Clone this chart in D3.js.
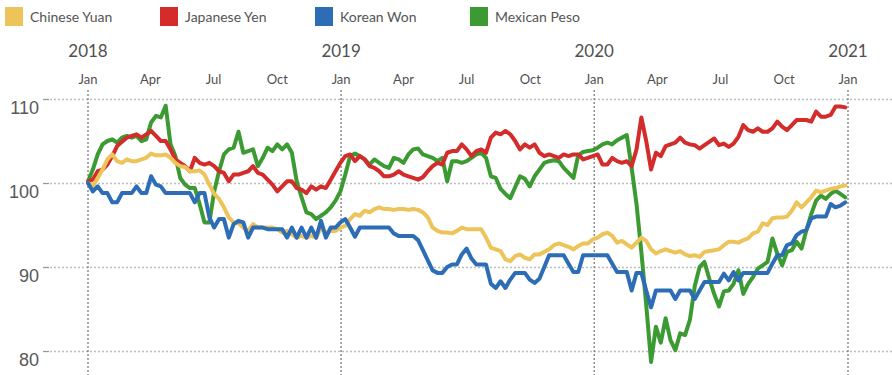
<!DOCTYPE html>
<meta charset="utf-8">
<style>
body { margin: 0; background: #fff; }
svg { font-family: Lato, "Open Sans", sans-serif; }
.line { fill: none; stroke-width: 4px; stroke-linejoin: round; stroke-linecap: round; }
.grid line { stroke: #bdbdbd; stroke-width: 1.3px; stroke-dasharray: 2,2; }
.grid path { stroke-width: 0; }
.yearline { stroke: #7a7a7a; stroke-width: 1.3px; stroke-dasharray: 2,2; }
.yaxis path { stroke-width: 0; }
.yaxis line { stroke: #999; stroke-width: 1.3px; }
.yaxis text { fill: #595959; font-size: 18px; }
.xlabel { fill: #505050; }
.legend text { fill: #555; font-size: 14px; }
</style>
<body>
<script src="https://d3js.org/d3.v7.min.js"></script>
<script>

// series names and colours
var names = ["Chinese Yuan", "Japanese Yen", "Korean Won", "Mexican Peso"];
var colors = ["#edc45a", "#d42b2b", "#2d6db5", "#3b9a32"];

// y tick labels
var yTicks = [80, 90, 100, 110];

// weekly index values, first week of Jan 2018 = 100
var yuan = [100.0, 99.6, 100.6, 101.6, 102.8, 103.4, 102.6, 102.4, 102.8, 102.6,
  102.6, 102.8, 103.0, 103.5, 103.3, 103.3, 103.4, 103.0, 102.4, 102.0,
  101.9, 101.4, 101.4, 101.5, 101.0, 99.8, 98.7, 98.1, 97.1, 95.9,
  95.3, 95.2, 94.7, 94.3, 95.1, 94.7, 94.7, 94.7, 94.7, 94.5,
  94.1, 94.3, 93.9, 93.5, 93.7, 93.5, 93.7, 93.5, 94.7, 94.1,
  94.3, 94.3, 94.7, 94.9, 95.7, 96.3, 96.1, 96.7, 96.5, 96.9,
  97.1, 96.9, 96.9, 96.8, 96.9, 96.9, 96.8, 96.9, 96.8, 96.5,
  95.9, 94.7, 94.3, 94.1, 94.1, 94.0, 94.3, 94.7, 94.5, 94.5,
  94.5, 94.5, 93.5, 92.3, 92.1, 91.9, 90.9, 90.7, 91.3, 91.5,
  91.1, 90.9, 91.5, 91.5, 91.8, 92.1, 92.6, 92.8, 92.6, 92.4,
  92.1, 92.5, 92.8, 92.8, 93.3, 93.5, 93.9, 94.1, 93.7, 92.9,
  93.1, 92.7, 92.3, 92.9, 93.5, 93.1, 92.1, 91.6, 91.9, 92.1,
  91.9, 91.7, 91.9, 91.5, 91.3, 91.4, 91.2, 91.8, 91.9, 92.0,
  92.1, 92.6, 93.0, 93.0, 92.9, 93.2, 93.4, 94.0, 94.2, 95.2,
  95.0, 95.8, 95.9, 95.9, 96.0, 96.7, 97.7, 97.1, 97.7, 98.3,
  99.1, 98.9, 99.1, 99.3, 99.4, 99.6, 99.7];

var yen = [100.2, 100.4, 101.4, 101.6, 102.2, 103.2, 104.4, 104.9, 105.4, 105.6,
  105.8, 105.4, 105.8, 106.2, 105.6, 105.0, 105.0, 104.0, 102.8, 102.4,
  102.0, 101.4, 103.0, 102.4, 102.2, 102.4, 102.0, 101.4, 101.2, 100.2,
  101.0, 101.0, 101.2, 101.4, 102.0, 101.2, 101.0, 100.4, 99.8, 99.0,
  99.6, 100.2, 100.2, 99.4, 99.2, 98.8, 99.6, 99.2, 99.6, 99.4,
  100.4, 101.4, 102.4, 103.2, 103.4, 102.6, 103.2, 102.8, 102.0, 101.8,
  101.4, 100.8, 100.8, 101.0, 101.4, 101.0, 100.8, 100.6, 100.4, 100.7,
  101.4, 102.0, 102.4, 102.2, 103.6, 103.8, 103.8, 104.6, 104.0, 103.2,
  103.8, 104.0, 103.6, 105.4, 106.0, 105.8, 106.2, 105.8, 105.0, 104.0,
  104.6, 104.2, 104.6, 103.6, 103.2, 103.4, 103.2, 103.0, 103.4, 103.2,
  103.4, 103.4, 102.8, 103.0, 103.2, 103.4, 102.2, 102.2, 103.0, 102.6,
  102.4, 102.6, 102.0, 104.0, 107.8, 105.0, 101.6, 103.6, 103.2, 104.4,
  104.6, 104.8, 105.4, 104.8, 104.6, 104.5, 104.1, 104.5, 104.9, 105.3,
  104.5, 104.7, 104.3, 104.7, 105.5, 106.9, 106.3, 106.1, 106.5, 106.1,
  106.1, 106.5, 107.3, 106.7, 106.3, 106.9, 107.5, 107.5, 107.5, 107.3,
  108.5, 107.9, 107.9, 108.1, 109.1, 109.1, 109.0];

var won = [100.0, 99.0, 99.6, 98.8, 98.8, 97.7, 97.7, 98.8, 98.8, 98.8,
  99.6, 98.8, 98.8, 100.8, 99.8, 99.6, 98.8, 98.8, 98.8, 98.8,
  98.8, 98.8, 97.7, 98.8, 98.8, 95.9, 94.7, 95.7, 95.7, 93.5,
  95.1, 95.5, 95.3, 93.5, 94.7, 94.7, 94.7, 94.5, 94.5, 94.5,
  94.5, 93.5, 94.7, 93.5, 94.7, 93.5, 94.7, 93.5, 95.5, 93.5,
  94.7, 94.7, 95.3, 95.7, 94.7, 93.6, 94.7, 94.7, 94.7, 94.7,
  94.7, 94.7, 94.7, 94.0, 93.7, 93.7, 93.7, 93.7, 93.2, 92.0,
  90.8, 89.6, 89.3, 89.3, 90.0, 90.3, 90.3, 91.5, 92.2, 91.0,
  90.3, 90.3, 90.3, 88.0, 87.5, 88.3, 87.5, 88.5, 89.3, 89.3,
  89.3, 88.5, 88.1, 88.6, 90.0, 91.4, 91.4, 91.4, 91.4, 90.4,
  89.4, 89.4, 91.4, 91.4, 91.4, 91.4, 91.4, 91.4, 90.4, 89.4,
  89.4, 89.4, 87.2, 89.3, 89.3, 87.2, 85.2, 87.2, 87.2, 87.2,
  87.2, 86.2, 87.2, 87.2, 87.2, 86.2, 87.2, 88.2, 88.2, 88.2,
  88.2, 89.2, 88.4, 89.4, 88.4, 89.3, 89.3, 89.3, 89.3, 89.3,
  89.3, 90.4, 91.4, 91.4, 92.6, 92.8, 93.8, 94.2, 94.4, 95.8,
  96.0, 96.0, 96.0, 97.5, 97.1, 97.3, 97.7];

var peso = [100.2, 101.6, 103.4, 104.6, 105.0, 105.2, 104.8, 105.4, 105.6, 105.4,
  105.6, 105.0, 105.2, 107.2, 108.0, 107.8, 109.2, 104.6, 103.2, 100.6,
  99.8, 99.4, 99.4, 97.5, 95.3, 95.3, 99.0, 101.4, 103.4, 104.0,
  104.2, 106.1, 103.6, 103.8, 104.0, 102.0, 103.0, 104.2, 103.8, 104.6,
  104.0, 104.6, 103.6, 100.2, 98.3, 96.5, 96.3, 95.7, 96.1, 96.5,
  97.1, 97.9, 99.0, 101.0, 103.2, 103.5, 103.2, 102.8, 102.2, 102.8,
  102.4, 102.0, 101.8, 103.0, 102.8, 102.4, 103.4, 104.0, 104.1, 103.4,
  103.2, 103.0, 102.6, 103.0, 100.2, 102.6, 102.6, 102.4, 102.6, 103.0,
  103.4, 103.6, 103.0, 100.8, 100.6, 99.3, 98.7, 98.2, 99.5, 100.8,
  100.5, 99.6, 100.8, 101.6, 102.4, 102.6, 102.7, 102.6, 101.8, 101.2,
  100.6, 103.3, 103.7, 103.8, 103.9, 104.2, 104.6, 104.8, 104.6, 105.1,
  105.4, 105.7, 101.8, 97.5, 91.8, 85.5, 78.7, 82.9, 81.0, 83.9,
  81.3, 80.1, 82.1, 81.9, 83.7, 87.7, 90.0, 90.6, 88.6, 86.8,
  85.3, 87.1, 87.2, 88.0, 89.6, 86.8, 88.0, 88.8, 89.8, 90.2,
  90.6, 93.4, 91.6, 90.2, 91.8, 92.0, 93.0, 92.2, 94.4, 96.3,
  97.9, 98.5, 98.1, 98.7, 99.1, 98.7, 98.3];

var seriesValues = [yuan, yen, won, peso];

// weekly dates
var start = new Date(2018, 0, 1);
var dates = yuan.map(function(d, i) { return d3.timeWeek.offset(start, i); });

var width = 892, height = 375;

var svg = d3.select("body").append("svg")
    .attr("width", width)
    .attr("height", height);

// set the ranges
var x = d3.scaleTime()
    .domain([new Date(2018, 0, 1), new Date(2021, 0, 1)])
    .range([88, 848]);
var y = d3.scaleLinear().domain([80, 110]).range([351, 99]);

// horizontal gridlines
svg.append("g")
    .attr("class", "grid")
    .attr("transform", "translate(50,0)")
    .call(d3.axisLeft(y).tickValues(yTicks).tickSize(-(width - 50)).tickFormat(""));

// y axis with short ticks
var yAxis = svg.append("g")
    .attr("class", "yaxis")
    .attr("transform", "translate(49,0)")
    .call(d3.axisLeft(y).tickValues(yTicks).tickSize(6).tickPadding(4));
yAxis.selectAll("text").attr("dy", "0.8em");

// year lines
var years = x.ticks(d3.timeYear.every(1));
svg.selectAll(".yearline")
    .data(years)
    .enter().append("line")
    .attr("class", "yearline")
    .attr("x1", function(d) { return x(d); })
    .attr("x2", function(d) { return x(d); })
    .attr("y1", 90)
    .attr("y2", height);

// year labels
svg.selectAll(".yearlabel")
    .data(years)
    .enter().append("text")
    .attr("class", "xlabel")
    .attr("x", function(d) { return x(d); })
    .attr("y", 57)
    .attr("text-anchor", "middle")
    .style("font-size", "17px")
    .text(d3.timeFormat("%Y"));

// month labels
svg.selectAll(".monthlabel")
    .data(x.ticks(d3.timeMonth.every(3)))
    .enter().append("text")
    .attr("class", "xlabel")
    .attr("x", function(d) { return x(d); })
    .attr("y", 84)
    .attr("text-anchor", "middle")
    .style("font-size", "13px")
    .text(d3.timeFormat("%b"));

// the lines
var valueline = d3.line()
    .x(function(d, i) { return x(dates[i]); })
    .y(function(d) { return y(d); });

var order = [3, 1, 0, 2];
order.forEach(function(k) {
  svg.append("path")
      .datum(seriesValues[k])
      .attr("class", "line")
      .style("stroke", colors[k])
      .attr("d", valueline);
});

// legend
var legendX = [5, 160, 315, 470];
var legend = svg.selectAll(".legend")
    .data(names)
    .enter().append("g")
    .attr("class", "legend")
    .attr("transform", function(d, i) { return "translate(" + legendX[i] + ",7)"; });
legend.append("rect")
    .attr("width", 18)
    .attr("height", 19)
    .style("fill", function(d, i) { return colors[i]; });
legend.append("text")
    .attr("x", 25)
    .attr("y", 15)
    .text(function(d) { return d; });

</script>
</body>
